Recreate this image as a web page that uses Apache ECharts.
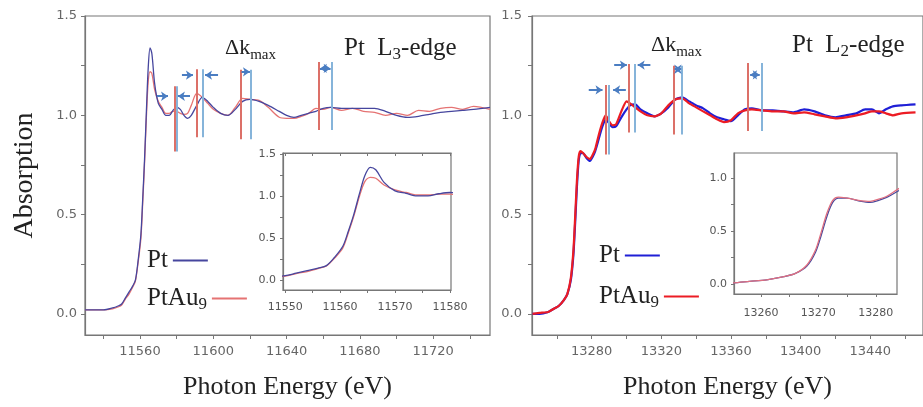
<!DOCTYPE html>
<html>
<head>
<meta charset="utf-8">
<script src="https://cdn.jsdelivr.net/npm/echarts@6/dist/echarts.min.js"></script>
<style>
html, body { margin: 0; padding: 0; background: #fff; }
#chart { width: 923px; height: 407px; }
</style>
</head>
<body>
<div id="chart"></div>
<script>
// Pt L3-edge spectra
var l3Energy = [11530, 11540, 11545, 11548, 11550, 11552, 11554, 11556, 11557.5, 11559, 11560.5, 11561.5, 11562.5, 11563.5, 11564.5, 11565.5, 11566.5, 11568, 11570, 11572, 11574, 11576, 11578, 11580, 11582, 11584, 11586, 11588, 11591, 11594, 11597, 11600, 11604, 11608, 11612, 11616, 11620, 11625, 11630, 11636, 11640, 11644, 11648, 11652, 11656, 11660, 11664, 11670, 11676, 11682, 11688, 11694, 11700, 11706, 11712, 11718, 11724, 11730, 11736, 11742, 11751];
var l3Pt = [0.02, 0.02, 0.03, 0.04, 0.05, 0.08, 0.11, 0.14, 0.17, 0.27, 0.40, 0.58, 0.78, 1.02, 1.24, 1.34, 1.31, 1.16, 1.06, 1.03, 1.0, 1.0, 1.025, 1.04, 1.03, 1.0, 0.985, 1.0, 1.05, 1.09, 1.07, 1.04, 1.01, 1.0, 1.03, 1.07, 1.08, 1.07, 1.05, 1.02, 1.0, 0.99, 1.0, 1.01, 1.02, 1.035, 1.04, 1.035, 1.035, 1.035, 1.035, 1.02, 1.0, 0.99, 0.995, 1.005, 1.015, 1.02, 1.025, 1.03, 1.04];
var l3PtAu9 = [0.02, 0.02, 0.025, 0.035, 0.045, 0.075, 0.10, 0.135, 0.165, 0.26, 0.38, 0.56, 0.76, 0.99, 1.17, 1.22, 1.21, 1.13, 1.07, 1.04, 1.01, 1.01, 1.02, 1.02, 1.01, 1.005, 1.01, 1.05, 1.11, 1.09, 1.06, 1.03, 1.01, 1.0, 1.04, 1.085, 1.08, 1.075, 1.04, 0.99, 0.985, 0.985, 0.995, 1.01, 1.035, 1.03, 1.04, 1.025, 1.035, 1.02, 1.015, 1.0, 1.01, 1.0, 1.025, 1.02, 1.035, 1.04, 1.03, 1.045, 1.03];

// Pt L2-edge spectra
var l2Energy = [13246, 13250, 13255, 13258, 13261, 13264, 13266, 13268, 13269.5, 13270.5, 13271.5, 13272.5, 13273.5, 13275, 13277, 13279, 13280.5, 13282, 13284, 13286, 13288, 13290, 13292, 13294, 13297, 13300, 13302, 13305, 13308, 13312, 13316, 13320, 13324, 13328, 13332, 13336, 13340, 13344, 13348, 13352, 13356, 13360, 13364, 13368, 13372, 13378, 13384, 13390, 13396, 13402, 13408, 13414, 13420, 13426, 13432, 13437, 13441, 13445, 13449, 13453, 13458, 13466];
var l2Pt = [0.0, 0.0, 0.01, 0.025, 0.04, 0.07, 0.10, 0.17, 0.30, 0.46, 0.64, 0.77, 0.81, 0.81, 0.785, 0.77, 0.79, 0.82, 0.88, 0.94, 0.98, 0.96, 0.94, 0.945, 0.99, 1.03, 1.05, 1.055, 1.03, 1.01, 0.995, 1.01, 1.04, 1.08, 1.09, 1.07, 1.05, 1.035, 1.01, 0.99, 0.98, 0.97, 1.0, 1.03, 1.035, 1.025, 1.025, 1.02, 1.015, 1.03, 1.02, 1.0, 0.99, 1.0, 1.01, 1.03, 1.03, 1.01, 1.03, 1.045, 1.05, 1.055];
var l2PtAu9 = [0.0, 0.005, 0.01, 0.025, 0.04, 0.07, 0.10, 0.18, 0.32, 0.49, 0.67, 0.79, 0.82, 0.81, 0.79, 0.78, 0.80, 0.83, 0.90, 0.96, 1.0, 0.97, 0.95, 0.955, 1.02, 1.07, 1.06, 1.04, 1.02, 1.0, 0.995, 1.01, 1.05, 1.08, 1.085, 1.06, 1.04, 1.02, 1.0, 0.98, 0.966, 0.975, 1.01, 1.025, 1.03, 1.025, 1.02, 1.02, 1.01, 1.015, 1.005, 0.995, 0.985, 0.99, 1.0, 1.01, 1.02, 1.02, 1.01, 1.0, 1.01, 1.015];

// delta k_max markers: energies of the red (PtAu9) and blue (Pt) lines, and their vertical extent
var l3MarkRed = [11579.1, 11590.9, 11615.1, 11657.7];
var l3MarkBlue = [11579.9, 11594.0, 11620.4, 11664.6];
var l3MarkTop = [1.146, 1.232, 1.229, 1.268];
var l3MarkBottom = [0.818, 0.889, 0.879, 0.926];
// arrows: [from, to, absorption, both ends]
var l3Arrows = [[11569.3, 11575.3, 1.096, false], [11587.3, 11580.7, 1.096, false], [11582.9, 11588.9, 1.202, false], [11602.6, 11595.5, 1.202, false], [11615.4, 11620.0, 1.219, false], [11658.2, 11664.0, 1.236, true]];

var l2MarkRed = [13288.2, 13301.3, 13327.0, 13369.9];
var l2MarkBlue = [13289.5, 13304.5, 13332.0, 13377.4];
var l2MarkTop = [1.152, 1.258, 1.249, 1.263];
var l2MarkBottom = [0.803, 0.914, 0.904, 0.921];
var l2Arrows = [[13278.3, 13286.2, 1.128, false], [13299.6, 13292.3, 1.128, false], [13292.9, 13300.2, 1.253, false], [13313.7, 13306.4, 1.253, false], [13327.6, 13331.4, 1.232, true], [13371.0, 13376.5, 1.204, true]];

var yTicks = [0, 0.25, 0.5, 0.75, 1.0, 1.25, 1.5];
var yLabels = [0, 0.5, 1.0, 1.5];
var l3Ticks = [11540, 11560, 11580, 11600, 11620, 11640, 11660, 11680, 11700, 11720, 11740];
var l3Labels = [11560, 11600, 11640, 11680, 11720];
var l2Ticks = [13260, 13280, 13300, 13320, 13340, 13360, 13380, 13400, 13420, 13440, 13460];
var l2Labels = [13280, 13320, 13360, 13400, 13440];
var l3InsetTicks = [11550, 11555, 11560, 11565, 11570, 11575, 11580];
var l3InsetLabels = [11550, 11560, 11570, 11580];
var l2InsetTicks = [13260, 13265, 13270, 13275, 13280];
var l2InsetLabels = [13260, 13270, 13280];
var l2InsetYTicks = [0, 0.25, 0.5, 0.75, 1.0];
var l2InsetYLabels = [0, 0.5, 1.0];

var colL3Pt = '#46469e', colL3Au = '#e57373';
var colL2Pt = '#1f1fd6', colL2Au = '#ec1c24';
var colMarkRed = '#dc7068', colMarkBlue = '#86b4da', colArrow = '#4a7dc2';
var axisCol = '#777';
var serif = 'Liberation Serif';

function pairs(xs, ys) {
	return xs.map(function(x, i) { return [x, ys[i]]; });
}

function markerLines(red, blue, top, bottom, arrows) {
	var out = [];
	for (var i = 0; i < red.length; i++) {
		out.push([{coord: [red[i], top[i]], lineStyle: {color: colMarkRed, width: 2, type: 'solid'}}, {coord: [red[i], bottom[i]]}]);
		out.push([{coord: [blue[i], top[i]], lineStyle: {color: colMarkBlue, width: 2, type: 'solid'}}, {coord: [blue[i], bottom[i]]}]);
	}
	arrows.forEach(function(a) {
		out.push([
			{coord: [a[0], a[2]], symbol: a[3] ? 'arrow' : 'none', lineStyle: {color: colArrow, width: 2, type: 'solid'}},
			{coord: [a[1], a[2]], symbol: 'arrow'}
		]);
	});
	return out;
}

function valAxis(o) {
	var base = {
		type: 'value',
		scale: true,
		splitLine: {show: false},
		axisLine: {show: true, onZero: false, lineStyle: {color: axisCol, width: 1.2}},
		axisTick: {show: true, length: 4, lineStyle: {color: axisCol}},
		axisLabel: {color: '#666', fontFamily: 'DejaVu Sans', fontSize: 13, margin: 7}
	};
	for (var k in o) base[k] = o[k];
	return base;
}

function fmt1(v) { return Number(v).toFixed(1); }
function fmt0(v) { return String(Math.round(v)); }

var chart = echarts.init(document.getElementById('chart'));

// subscripts: top-aligned tokens pushed down with padding
var rich = {
	b: {fontFamily: serif, fontSize: 22, fontWeight: 'normal', color: '#222', lineHeight: 30},
	s: {fontFamily: serif, fontSize: 15, fontWeight: 'normal', color: '#222', verticalAlign: 'top', padding: [15, 0, 0, 0]},
	t: {fontFamily: serif, fontSize: 25, fontWeight: 'normal', color: '#222', lineHeight: 32},
	ts: {fontFamily: serif, fontSize: 17, fontWeight: 'normal', color: '#222', verticalAlign: 'top', padding: [14, 0, 0, 0]}
};
var legendRich = {
	n: {fontFamily: serif, fontSize: 25, color: '#222', lineHeight: 30},
	s: {fontFamily: serif, fontSize: 17, color: '#222', verticalAlign: 'top', padding: [13, 0, 0, 0]}
};
function legendFmt(name) {
	return name === 'PtAu9' ? '{n|PtAu}{s|9}' : '{n|' + name + '}';
}
function oneLegend(name, color, left, top) {
	return {
		left: left, top: top, orient: 'horizontal', align: 'right',
		itemWidth: 35, itemHeight: 2, icon: 'rect', selectedMode: false,
		formatter: legendFmt, textStyle: {rich: legendRich},
		data: [{name: name, itemStyle: {color: color}}]
	};
}

var option = {
	animation: false,
	backgroundColor: '#fff',
	title: [
		{text: '{b|Δk}{s|max}', left: 220, top: 28, textStyle: {rich: rich}},
		{text: '{t|Pt  L}{ts|3}{t|-edge}', left: 339, top: 27, textStyle: {rich: rich}},
		{text: '{b|Δk}{s|max}', left: 646, top: 25, textStyle: {rich: rich}},
		{text: '{t|Pt  L}{ts|2}{t|-edge}', left: 787, top: 24, textStyle: {rich: rich}}
	],
	legend: [
		oneLegend('Pt', colL3Pt, 142, 243),
		oneLegend('PtAu9', colL3Au, 142, 281),
		oneLegend('Pt', colL2Pt, 594, 238),
		oneLegend('PtAu9', colL2Au, 594, 279)
	],
	grid: [
		{left: 85, top: 16, width: 405, height: 319, show: true, borderColor: axisCol, borderWidth: 1.2},
		{left: 283, top: 153, width: 168, height: 137, show: true, borderColor: axisCol, borderWidth: 1.2, backgroundColor: '#fff'},
		{left: 532, top: 16, width: 400, height: 319, show: true, borderColor: axisCol, borderWidth: 1.2},
		{left: 734, top: 153, width: 163, height: 141, show: true, borderColor: axisCol, borderWidth: 1.2, backgroundColor: '#fff'}
	],
	xAxis: [
		valAxis({gridIndex: 0, min: 11530, max: 11751,
			name: 'Photon Energy (eV)', nameLocation: 'middle', nameGap: 39,
			nameTextStyle: {fontFamily: serif, fontSize: 26, color: '#222'},
			axisTick: {show: true, length: 4, lineStyle: {color: axisCol}, customValues: l3Ticks},
			axisLabel: {color: '#666', fontFamily: 'DejaVu Sans', fontSize: 13, margin: 10, customValues: l3Labels, formatter: fmt0}}),
		valAxis({gridIndex: 1, min: 11549.6, max: 11580.2,
			axisTick: {show: true, length: 3, lineStyle: {color: axisCol}, customValues: l3InsetTicks},
			axisLabel: {color: '#555', fontFamily: 'DejaVu Sans', fontSize: 11, margin: 12, customValues: l3InsetLabels, formatter: fmt0}}),
		valAxis({gridIndex: 2, min: 13245.7, max: 13470.3,
			name: 'Photon Energy (eV)', nameLocation: 'middle', nameGap: 39,
			nameTextStyle: {fontFamily: serif, fontSize: 26, color: '#222'},
			axisTick: {show: true, length: 4, lineStyle: {color: axisCol}, customValues: l2Ticks},
			axisLabel: {color: '#666', fontFamily: 'DejaVu Sans', fontSize: 13, margin: 10, customValues: l2Labels, formatter: fmt0}}),
		valAxis({gridIndex: 3, min: 13255.3, max: 13283.7,
			axisTick: {show: true, length: 3, lineStyle: {color: axisCol}, customValues: l2InsetTicks},
			axisLabel: {color: '#555', fontFamily: 'DejaVu Sans', fontSize: 11, margin: 14, customValues: l2InsetLabels, formatter: fmt0}}),
		valAxis({gridIndex: 1, position: 'top', min: 11549.6, max: 11580.2,
			axisTick: {show: true, inside: true, length: 3, lineStyle: {color: axisCol}, customValues: l3InsetTicks},
			axisLabel: {show: false}})
	],
	yAxis: [
		valAxis({gridIndex: 0, min: -0.106, max: 1.5,
			name: 'Absorption', nameLocation: 'middle', nameGap: 46, nameRotate: 90,
			nameTextStyle: {fontFamily: serif, fontSize: 28, color: '#222'},
			axisTick: {show: true, length: 4, lineStyle: {color: axisCol}, customValues: yTicks},
			axisLabel: {color: '#666', fontFamily: 'DejaVu Sans', fontSize: 13, margin: 8, customValues: yLabels, formatter: fmt1}}),
		valAxis({gridIndex: 1, min: -0.12, max: 1.51,
			axisTick: {show: true, length: 3, lineStyle: {color: axisCol}, customValues: yTicks},
			axisLabel: {color: '#555', fontFamily: 'DejaVu Sans', fontSize: 11, margin: 7, customValues: yLabels, formatter: fmt1}}),
		valAxis({gridIndex: 2, min: -0.106, max: 1.5,
			axisTick: {show: true, length: 4, lineStyle: {color: axisCol}, customValues: yTicks},
			axisLabel: {color: '#666', fontFamily: 'DejaVu Sans', fontSize: 13, margin: 10, customValues: yLabels, formatter: fmt1}}),
		valAxis({gridIndex: 3, min: -0.094, max: 1.236,
			axisTick: {show: true, length: 3, lineStyle: {color: axisCol}, customValues: l2InsetYTicks},
			axisLabel: {color: '#555', fontFamily: 'DejaVu Sans', fontSize: 11, margin: 7, customValues: l2InsetYLabels, formatter: fmt1}})
	],
	series: [
		{name: 'PtAu9', type: 'line', xAxisIndex: 0, yAxisIndex: 0, data: pairs(l3Energy, l3PtAu9),
			showSymbol: false, smooth: 0.3, lineStyle: {color: colL3Au, width: 1.3}, itemStyle: {color: colL3Au},
			markLine: {silent: true, symbol: 'none', symbolSize: 7, label: {show: false},
				data: markerLines(l3MarkRed, l3MarkBlue, l3MarkTop, l3MarkBottom, l3Arrows)}},
		{name: 'Pt', type: 'line', xAxisIndex: 0, yAxisIndex: 0, data: pairs(l3Energy, l3Pt),
			showSymbol: false, smooth: 0.3, lineStyle: {color: colL3Pt, width: 1.3}, itemStyle: {color: colL3Pt}},
		{name: 'PtAu9', type: 'line', xAxisIndex: 1, yAxisIndex: 1, data: pairs(l3Energy, l3PtAu9),
			showSymbol: false, smooth: 0.3, clip: true, lineStyle: {color: colL3Au, width: 1.3}, itemStyle: {color: colL3Au}},
		{name: 'Pt', type: 'line', xAxisIndex: 1, yAxisIndex: 1, data: pairs(l3Energy, l3Pt),
			showSymbol: false, smooth: 0.3, clip: true, lineStyle: {color: colL3Pt, width: 1.3}, itemStyle: {color: colL3Pt}},
		{name: 'Pt', type: 'line', xAxisIndex: 2, yAxisIndex: 2, data: pairs(l2Energy, l2Pt),
			showSymbol: false, smooth: 0.2, lineStyle: {color: colL2Pt, width: 2.2}, itemStyle: {color: colL2Pt}},
		{name: 'PtAu9', type: 'line', xAxisIndex: 2, yAxisIndex: 2, data: pairs(l2Energy, l2PtAu9),
			showSymbol: false, smooth: 0.2, lineStyle: {color: colL2Au, width: 2.2}, itemStyle: {color: colL2Au},
			markLine: {silent: true, symbol: 'none', symbolSize: 7, label: {show: false},
				data: markerLines(l2MarkRed, l2MarkBlue, l2MarkTop, l2MarkBottom, l2Arrows)}},
		{name: 'Pt', type: 'line', xAxisIndex: 3, yAxisIndex: 3, data: pairs(l2Energy, l2Pt),
			showSymbol: false, smooth: 0.3, clip: true, lineStyle: {color: '#4a4a9c', width: 1.3}, itemStyle: {color: colL2Pt}},
		{name: 'PtAu9', type: 'line', xAxisIndex: 3, yAxisIndex: 3, data: pairs(l2Energy, l2PtAu9),
			showSymbol: false, smooth: 0.3, clip: true, lineStyle: {color: '#e07080', width: 1.3}, itemStyle: {color: colL2Au}}
	]
};

chart.setOption(option);
</script>
</body>
</html>
